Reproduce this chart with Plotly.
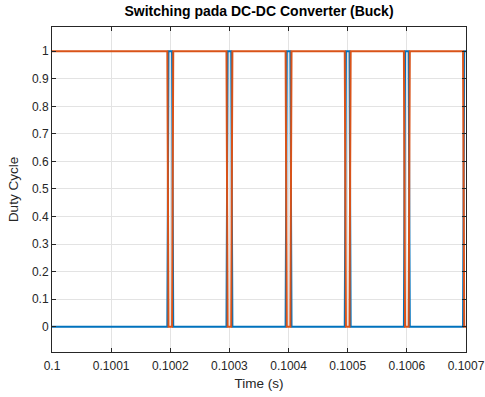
import plotly.graph_objects as go

# Sampled gate signals around each switching instant (every 0.1 ms)
time_s = [0.1, 0.100195, 0.100197, 0.100203, 0.100205,
          0.100295, 0.100297, 0.100303, 0.100305,
          0.100395, 0.100397, 0.100403, 0.100405,
          0.100495, 0.100497, 0.100503, 0.100505,
          0.100595, 0.100597, 0.100603, 0.100605,
          0.100695, 0.100697, 0.1007]
switch_a = [0, 0, 1, 1, 0,
            0, 1, 1, 0,
            0, 1, 1, 0,
            0, 1, 1, 0,
            0, 1, 1, 0,
            0, 1, 1]
switch_b = [1, 1, 0, 0, 1,
            1, 0, 0, 1,
            1, 0, 0, 1,
            1, 0, 0, 1,
            1, 0, 0, 1,
            1, 0, 0]

x_ticks = [0.1, 0.1001, 0.1002, 0.1003, 0.1004, 0.1005, 0.1006, 0.1007]
x_tick_labels = ["0.1", "0.1001", "0.1002", "0.1003", "0.1004", "0.1005", "0.1006", "0.1007"]
y_ticks = [0, 0.1, 0.2, 0.3, 0.4, 0.5, 0.6, 0.7, 0.8, 0.9, 1]
y_tick_labels = ["0", "0.1", "0.2", "0.3", "0.4", "0.5", "0.6", "0.7", "0.8", "0.9", "1"]

fig = go.Figure()
fig.add_trace(go.Scatter(x=time_s, y=switch_a, mode="lines",
                         line=dict(color="#0072BD", width=2), showlegend=False))
fig.add_trace(go.Scatter(x=time_s, y=switch_b, mode="lines",
                         line=dict(color="#D95319", width=2), showlegend=False))

family = "Arial, Liberation Sans, sans-serif"
tick_font = dict(family=family, size=12, color="#262626")
label_font = dict(family=family, size=13.5, color="#262626")

fig.update_layout(
    width=485, height=397,
    margin=dict(l=52, r=19, t=27, b=45, autoexpand=False),
    paper_bgcolor="white", plot_bgcolor="white",
    title=dict(text="<b>Switching pada DC-DC Converter (Buck)</b>",
               x=0.5, xref="paper", xanchor="center",
               y=1, yref="container", yanchor="top", pad=dict(t=6),
               font=dict(family=family, size=14, color="#000000")),
    font=tick_font,
    xaxis=dict(range=[0.1, 0.1007], tickvals=x_ticks, ticktext=x_tick_labels,
               automargin=False, ticklabelstandoff=3,
               showgrid=True, gridcolor="#e3e3e3", gridwidth=1,
               showline=True, linecolor="#262626", linewidth=1, mirror="allticks",
               ticks="inside", ticklen=4, tickcolor="#262626",
               zeroline=False, tickfont=tick_font,
               title=dict(text="Time (s)", font=label_font, standoff=6)),
    yaxis=dict(range=[-0.092, 1.088], tickvals=y_ticks, ticktext=y_tick_labels,
               automargin=False,
               showgrid=True, gridcolor="#e3e3e3", gridwidth=1,
               showline=True, linecolor="#262626", linewidth=1, mirror="allticks",
               ticks="inside", ticklen=4, tickcolor="#262626",
               zeroline=False, tickfont=tick_font,
               title=dict(text="Duty Cycle", font=label_font, standoff=10)),
)

fig.write_html("out.html")
